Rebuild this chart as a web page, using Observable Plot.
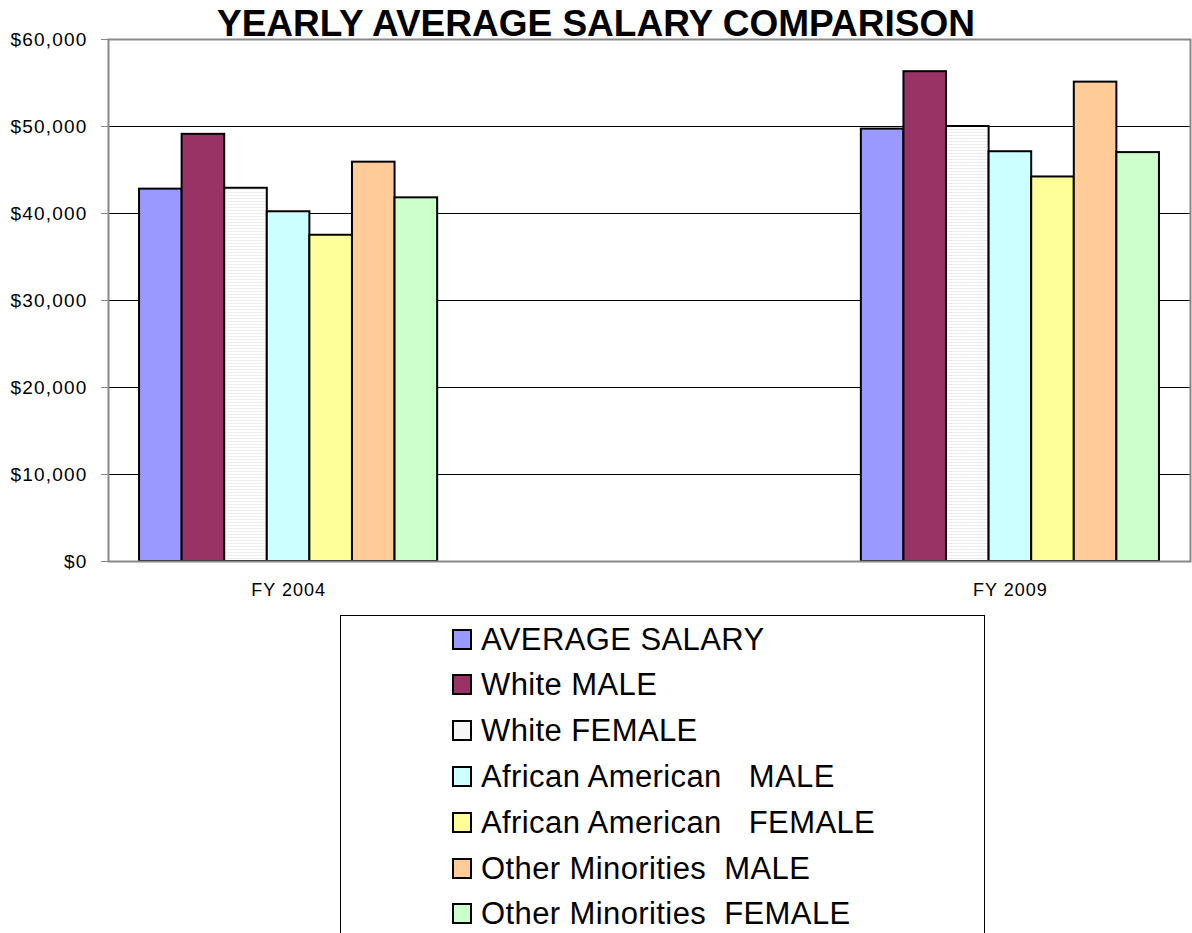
<!DOCTYPE html>
<html>
<head>
<meta charset="utf-8">
<script src="https://cdn.jsdelivr.net/npm/d3@7"></script>
<script src="https://cdn.jsdelivr.net/npm/@observablehq/plot@0.6"></script>
<style>
  html, body { margin: 0; padding: 0; background: #fff; }
  body { width: 1192px; height: 933px; overflow: hidden; font-family: Arial, "Liberation Sans", sans-serif; }
  #wrap { position: relative; width: 1192px; height: 933px; }
  #title { position: absolute; left: 0; top: 5px; width: 1192px; text-align: center; font-weight: bold; font-size: 37px; line-height: 1; color: #000; z-index: 2; }
  #chart { position: absolute; left: 0; top: 0; }
  #chart g[aria-label="y-axis tick label"] text { letter-spacing: 1.2px; }
  #chart g[aria-label="x-axis tick label"] text { letter-spacing: 1px; }
  #legend { position: absolute; left: 340px; top: 615px; width: 645px; height: 340px; border: 1px solid #000; box-sizing: border-box; background: #fff; }
  .row { position: absolute; left: 111px; height: 34px; display: flex; align-items: center; }
  .sw { width: 16px; height: 17px; border: 2px solid #000; margin-right: 9px; }
  .lbl { font-size: 31px; letter-spacing: 0.4px; white-space: pre; color: #000; line-height: 1; }
</style>
</head>
<body>
<div id="wrap">
  <div id="chart"></div>
  <div id="title">YEARLY AVERAGE SALARY COMPARISON</div>
  <div id="legend"></div>
</div>
<script>
const years = ["FY 2004", "FY 2009"];
const seriesNames = [
  "AVERAGE SALARY",
  "White MALE",
  "White FEMALE",
  "African American   MALE",
  "African American   FEMALE",
  "Other Minorities  MALE",
  "Other Minorities  FEMALE"
];
const fy2004 = [42800, 49100, 42900, 40200, 37500, 45900, 41800];
const fy2009 = [49700, 56300, 50000, 47100, 44200, 55100, 47000];
const seriesColors = ["#9999FF", "#993366", "url(#wfPattern)", "#CCFFFF", "#FFFF99", "#FFCC99", "#CCFFCC"];
const legendColors = ["#9999FF", "#993366", "#F7F7F7", "#CCFFFF", "#FFFF99", "#FFCC99", "#CCFFCC"];
const yTicks = [0, 10000, 20000, 30000, 40000, 50000, 60000];

const data = [];
seriesNames.forEach((s, i) => {
  data.push({year: years[0], series: s, value: fy2004[i]});
  data.push({year: years[1], series: s, value: fy2009[i]});
});

const fmt = d => "$" + d3.format(",")(d);

const W = 1192, H = 610, mT = 39, mB = 49, mL = 108, mR = 2;
const padIn = 0.587, padOut = 0.043;
const bw = d3.scaleBand(years, [mL, W - mR]).paddingInner(padIn).paddingOuter(padOut).bandwidth();
const nS = seriesNames.length;

const barMarks = seriesNames.map((s, i) =>
  Plot.barY(data.filter(d => d.series === s), {
    x: "year", y: "value", fill: "series",
    stroke: "#000", strokeWidth: 2,
    insetLeft: i * bw / nS, insetRight: (nS - 1 - i) * bw / nS
  })
);

const chart = Plot.plot({
  width: W,
  height: H,
  marginTop: mT,
  marginBottom: mB,
  marginLeft: mL,
  marginRight: mR,
  style: {fontFamily: "Arial, 'Liberation Sans', sans-serif", background: "transparent"},
  x: {domain: years, paddingInner: padIn, paddingOuter: padOut, round: false, label: null},
  y: {domain: [0, 60000], label: null},
  color: {domain: seriesNames, range: seriesColors},
  marks: [
    Plot.ruleY(yTicks.slice(1, -1), {stroke: "#000", strokeWidth: 1}),
    ...barMarks,
    Plot.frame({stroke: "#888", strokeWidth: 2}),
    Plot.axisY({ticks: yTicks, tickFormat: fmt, tickSize: 7, tickPadding: 14, fontSize: 19, stroke: "#888", label: null, color: "#000"}),
    Plot.axisX({tickSize: 0, tickPadding: 22, fontSize: 18, label: null})
  ]
});

const defs = d3.create("svg:defs");
const pat = defs.append("pattern").attr("id", "wfPattern").attr("width", 4).attr("height", 3).attr("patternUnits", "userSpaceOnUse");
pat.append("rect").attr("width", 4).attr("height", 3).attr("fill", "#ffffff");
pat.append("rect").attr("width", 4).attr("height", 1).attr("fill", "#ededed");
chart.insertBefore(defs.node(), chart.firstChild);

document.getElementById("chart").appendChild(chart);

const legend = document.getElementById("legend");
seriesNames.forEach((s, i) => {
  const row = document.createElement("div");
  row.className = "row";
  row.style.top = (6 + 45.8 * i) + "px";
  const sw = document.createElement("div");
  sw.className = "sw";
  sw.style.background = legendColors[i];
  const lbl = document.createElement("div");
  lbl.className = "lbl";
  lbl.textContent = s;
  row.appendChild(sw);
  row.appendChild(lbl);
  legend.appendChild(row);
});
</script>
</body>
</html>
